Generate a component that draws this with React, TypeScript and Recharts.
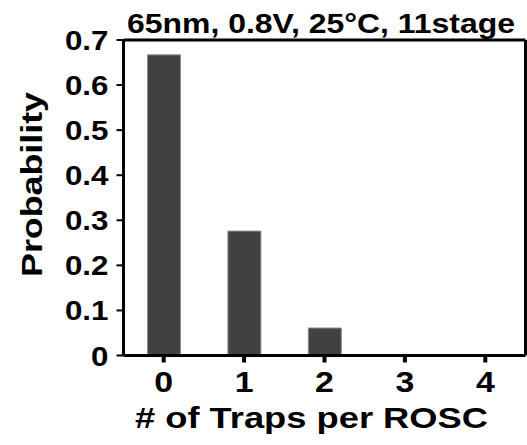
import React from 'react';
import { BarChart, Bar, XAxis, YAxis } from 'recharts';

const categories = ['0', '1', '2', '3', '4'];
const probabilities = [0.667, 0.276, 0.061, 0, 0];
const yTicks = [0, 0.1, 0.2, 0.3, 0.4, 0.5, 0.6, 0.7];
const titleText = '65nm, 0.8V, 25°C, 11stage';
const xLabelText = '# of Traps per ROSC';
const yLabelText = 'Probability';

const data = categories.map((c, i) => ({ name: c, value: probabilities[i] }));

const FONT = '"Liberation Sans", Arial, Helvetica, sans-serif';

const YTick = (props: any) => {
  const { x, y, payload } = props;
  return (
    <g transform={`translate(${x},${y})`}>
      <text
        x={0}
        y={10}
        textAnchor="end"
        transform="scale(1.12,1)"
        fontFamily={FONT}
        fontWeight="bold"
        fontSize={28}
        fill="#000"
      >
        {String(payload.value)}
      </text>
    </g>
  );
};

const XTick = (props: any) => {
  const { x, payload } = props;
  return (
    <g transform={`translate(${x},392)`}>
      <text
        x={0}
        y={0}
        textAnchor="middle"
        transform="scale(1.13,1)"
        fontFamily={FONT}
        fontWeight="bold"
        fontSize={30}
        fill="#000"
      >
        {payload.value}
      </text>
    </g>
  );
};

const TitleLabel = () => (
  <text
    x={321}
    y={33}
    textAnchor="middle"
    textLength={388}
    lengthAdjust="spacingAndGlyphs"
    fontFamily={FONT}
    fontWeight="bold"
    fontSize={28}
    fill="#000"
  >
    {titleText}
  </text>
);

const XLabel = () => (
  <text
    x={311.5}
    y={428}
    textAnchor="middle"
    textLength={353}
    lengthAdjust="spacingAndGlyphs"
    fontFamily={FONT}
    fontWeight="bold"
    fontSize={30}
    fill="#000"
  >
    {xLabelText}
  </text>
);

const YLabel = () => (
  <text
    transform="translate(42,184.5) rotate(-90)"
    x={0}
    y={0}
    textAnchor="middle"
    textLength={185}
    lengthAdjust="spacingAndGlyphs"
    fontFamily={FONT}
    fontWeight="bold"
    fontSize={30}
    fill="#000"
  >
    {yLabelText}
  </text>
);

export default function App() {
  return (
    <div style={{ position: 'absolute', left: 0, top: 0, width: 527, height: 445, background: '#fff' }}>
      <BarChart
        width={527}
        height={445}
        data={data}
        margin={{ top: 39, right: 0.5, bottom: 0, left: 63.5 }}
      >
        <XAxis
          xAxisId="top"
          orientation="top"
          dataKey="name"
          height={1}
          tick={false}
          tickLine={false}
          axisLine={{ stroke: '#000', strokeWidth: 3 }}
          label={{ content: TitleLabel as any }}
        />
        <YAxis
          yAxisId="right"
          orientation="right"
          dataKey="value"
          domain={[0, 0.7]}
          ticks={yTicks}
          width={1}
          tick={false}
          tickLine={false}
          axisLine={{ stroke: '#000', strokeWidth: 3 }}
        />
        <XAxis
          dataKey="name"
          height={89.5}
          tickSize={7}
          tickMargin={5}
          tick={<XTick />}
          tickLine={{ stroke: '#000', strokeWidth: 4 }}
          axisLine={{ stroke: '#000', strokeWidth: 3 }}
          interval={0}
          label={{ content: XLabel as any }}
        />
        <YAxis
          width={60}
          domain={[0, 0.7]}
          ticks={yTicks}
          tickSize={7}
          tickMargin={8}
          tick={<YTick />}
          tickLine={{ stroke: '#000', strokeWidth: 2 }}
          axisLine={{ stroke: '#000', strokeWidth: 3 }}
          interval={0}
          allowDataOverflow
          label={{ content: YLabel as any }}
        />
        <Bar
          dataKey="value"
          fill="#414141"
          stroke="#8c8c8c"
          strokeWidth={1}
          barSize={33}
          isAnimationActive={false}
        />
      </BarChart>
    </div>
  );
}
